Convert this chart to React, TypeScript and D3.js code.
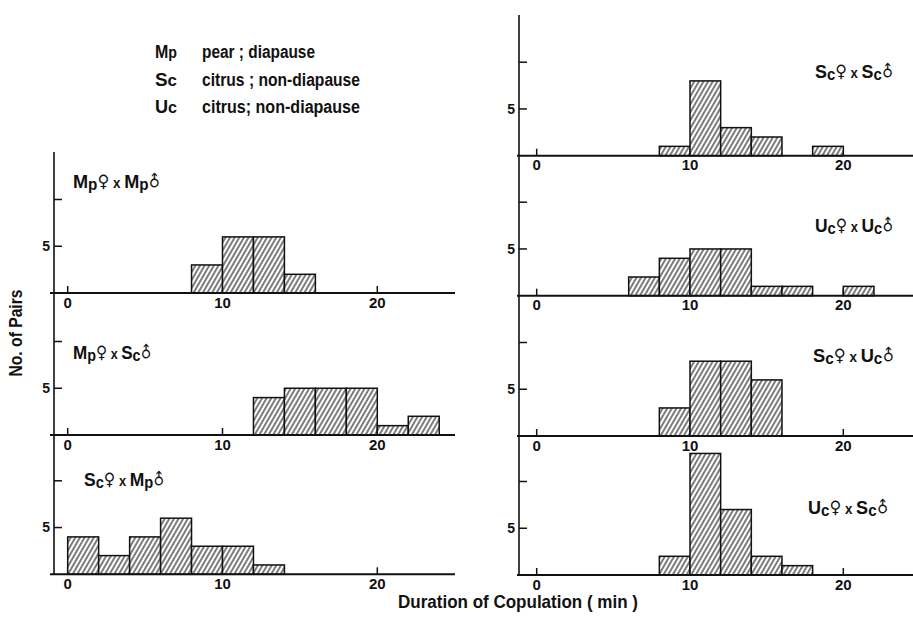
import React from 'react';
import * as d3 from 'd3';

// ---- data (counts of pairs per 2-minute bin, bins start at 0,2,4,...) ----
const binStarts = [0, 2, 4, 6, 8, 10, 12, 14, 16, 18, 20, 22];
const binWidth = 2;
const mpFxMpM = [0, 0, 0, 0, 3, 6, 6, 2, 0, 0, 0, 0];
const mpFxScM = [0, 0, 0, 0, 0, 0, 4, 5, 5, 5, 1, 2];
const scFxMpM = [4, 2, 4, 6, 3, 3, 1, 0, 0, 0, 0, 0];
const scFxScM = [0, 0, 0, 0, 1, 8, 3, 2, 0, 1, 0, 0];
const ucFxUcM = [0, 0, 0, 2, 4, 5, 5, 1, 1, 0, 1, 0];
const scFxUcM = [0, 0, 0, 0, 3, 8, 8, 6, 0, 0, 0, 0];
const ucFxScM = [0, 0, 0, 0, 2, 13, 7, 2, 1, 0, 0, 0];

const crossFemale = ['Mp', 'Mp', 'Sc', 'Sc', 'Uc', 'Sc', 'Uc'];
const crossMale = ['Mp', 'Sc', 'Mp', 'Sc', 'Uc', 'Uc', 'Sc'];

const xTicks = [0, 10, 20];
const yTicks = [5, 10];
const yTickLabels = ['5', ''];

const legendCodes = ['Mp', 'Sc', 'Uc'];
const legendDescs = ['pear ; diapause', 'citrus ; non-diapause', 'citrus; non-diapause'];

const xTitle = 'Duration of Copulation ( min )';
const yTitle = 'No. of Pairs';

// ---- layout ----
const FONT = "'Liberation Sans', Arial, Helvetica, sans-serif";
const SYM = "'DejaVu Sans', sans-serif";
const cols = {
  L: { axisX: 54, x0: 67.7, x10: 222.5, lineStart: 50, lineEnd: 455, top: 152, bottom: 575 },
  R: { axisX: 519, x0: 536.7, x10: 690, lineStart: 517, lineEnd: 913, top: 15, bottom: 576 },
};
const panels = [
  { data: mpFxMpM, col: 'L', base: 293, tx: 73, ty: 188, tw: 94 },
  { data: mpFxScM, col: 'L', base: 435, tx: 73, ty: 359, tw: 85 },
  { data: scFxMpM, col: 'L', base: 574.3, tx: 84, ty: 486, tw: 87 },
  { data: scFxScM, col: 'R', base: 155.7, tx: 815, ty: 78, tw: 85 },
  { data: ucFxUcM, col: 'R', base: 295.7, tx: 815, ty: 232, tw: 85 },
  { data: scFxUcM, col: 'R', base: 436, tx: 813, ty: 362, tw: 88 },
  { data: ucFxScM, col: 'R', base: 575, tx: 808, ty: 514, tw: 87 },
];
const legendRows = [58, 86, 113];
const legendDescW = [113, 158, 158];

function Strain({ code }: { code: string }) {
  return (
    <>
      <tspan fontSize={19}>{code[0]}</tspan>
      <tspan fontSize={16} dy={2}>{code[1]}</tspan>
    </>
  );
}

export default function App() {
  return (
    <svg width={913} height={621} style={{ position: 'absolute', left: 0, top: 0, background: '#fff' }}
      fontFamily={FONT}>
      <defs>
        <pattern id="hatch" width={4} height={10} patternUnits="userSpaceOnUse" patternTransform="rotate(30)">
          <rect width={4} height={10} fill="#fff" />
          <line x1={2} y1={0} x2={2} y2={10} stroke="#111" strokeWidth={1.1} />
        </pattern>
      </defs>
      <rect width={913} height={621} fill="#fff" />

      {/* legend */}
      {legendCodes.map((c, i) => (
        <g key={c}>
          <text x={155} y={legendRows[i]} fontSize={18} fontWeight="bold" fill="#111" textLength={22}
            lengthAdjust="spacingAndGlyphs">
            <tspan>{c[0]}</tspan><tspan fontSize={16}>{c[1]}</tspan>
          </text>
          <text x={202} y={legendRows[i]} fontSize={18} fontWeight="bold" fill="#111" textLength={legendDescW[i]}
            lengthAdjust="spacingAndGlyphs">{legendDescs[i]}</text>
        </g>
      ))}

      {/* vertical axes */}
      {Object.values(cols).map((c, i) => (
        <line key={i} x1={c.axisX} x2={c.axisX} y1={c.top} y2={c.bottom} stroke="#111" strokeWidth={1.6} />
      ))}

      {panels.map((p, pi) => {
        const c = (cols as any)[p.col];
        const x = d3.scaleLinear().domain([0, 10]).range([c.x0, c.x10]);
        const y = d3.scaleLinear().domain([0, 10]).range([p.base, p.base - 93.5]);
        return (
          <g key={pi}>
            {/* x ticks */}
            {xTicks.map((t) => (
              <g key={t}>
                <line x1={x(t)} x2={x(t)} y1={y(0)} y2={y(0) - 7} stroke="#111" strokeWidth={1.5} />
                <text x={x(t)} y={y(0) + 14.5} textAnchor="middle" fontSize={15} fontWeight="bold" fill="#111">{t}</text>
              </g>
            ))}
            {/* y ticks */}
            {yTicks.map((t, ti) => (
              <g key={t}>
                <line x1={c.axisX} x2={c.axisX + 8} y1={y(t)} y2={y(t)} stroke="#111" strokeWidth={1.5} />
                <text x={c.axisX - 4} y={y(t)} dy="0.35em" textAnchor="end" fontSize={14} fontWeight="bold" fill="#111">
                  {yTickLabels[ti]}
                </text>
              </g>
            ))}
            {/* bars */}
            {p.data.map((v, i) =>
              v > 0 ? (
                <rect key={i} x={x(binStarts[i])} y={y(v)} width={x(binStarts[i] + binWidth) - x(binStarts[i])}
                  height={y(0) - y(v)} fill="url(#hatch)" stroke="#111" strokeWidth={1.5} />
              ) : null
            )}
            {/* baseline */}
            <line x1={c.lineStart} x2={c.lineEnd} y1={y(0)} y2={y(0)} stroke="#111" strokeWidth={2} />
            {/* title */}
            <text x={p.tx} y={p.ty} fill="#111" fontWeight="bold" textLength={p.tw} lengthAdjust="spacingAndGlyphs">
              <Strain code={crossFemale[pi]} />
              <tspan fontSize={17} dy={-3} fontFamily={SYM}>♀</tspan>
              <tspan fontSize={14} dy={1}> x </tspan>
              <Strain code={crossMale[pi]} />
              <tspan fontSize={16} dx={5} dy={0} rotate={-45} fontFamily={SYM}>♂</tspan>
            </text>
          </g>
        );
      })}

      {/* axis titles */}
      <text x={398} y={608} fontSize={19} fontWeight="bold" fill="#111" textLength={240}
        lengthAdjust="spacingAndGlyphs">{xTitle}</text>
      <text transform="translate(22,333) rotate(-90)" textAnchor="middle" fontSize={19} fontWeight="bold" fill="#111"
        textLength={87} lengthAdjust="spacingAndGlyphs">{yTitle}</text>
    </svg>
  );
}
